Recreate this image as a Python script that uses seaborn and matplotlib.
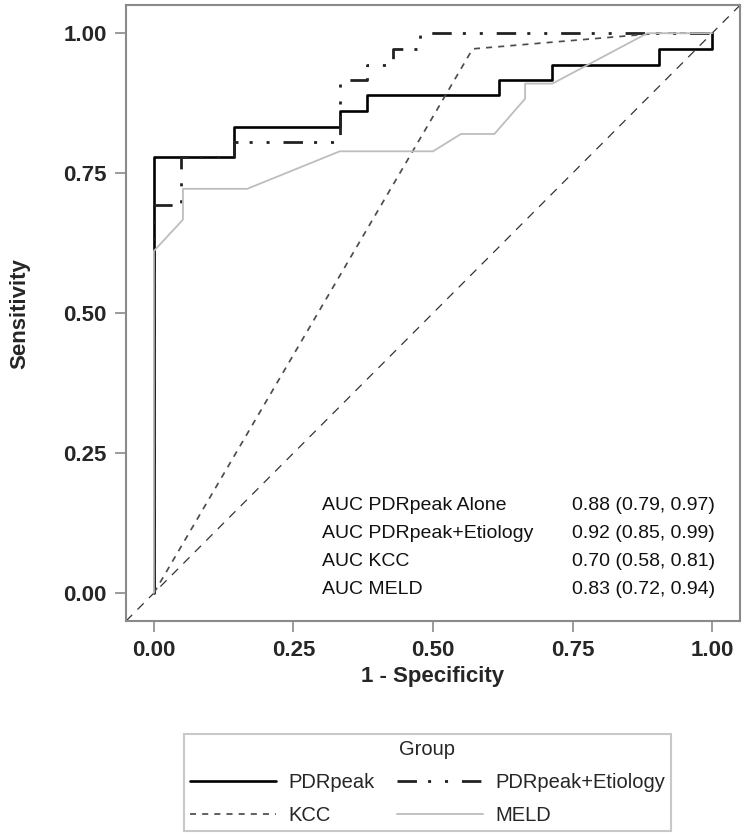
import numpy as np
import pandas as pd
import matplotlib
matplotlib.use("Agg")
import matplotlib.pyplot as plt
import seaborn as sns

# ROC points (x = 1 - specificity, y = sensitivity)
pdr_fpr = [0, 0, 0.143, 0.143, 0.333, 0.333, 0.381, 0.381, 0.619, 0.619, 0.714, 0.714, 0.905, 0.905, 1.0, 1.0]
pdr_tpr = [0, 0.778, 0.778, 0.833, 0.833, 0.861, 0.861, 0.889, 0.889, 0.917, 0.917, 0.944, 0.944, 0.972, 0.972, 1.0]

etio_fpr = [0, 0, 0.048, 0.048, 0.143, 0.143, 0.333, 0.333, 0.381, 0.381, 0.429, 0.429, 0.476, 0.476, 1.0]
etio_tpr = [0, 0.694, 0.694, 0.778, 0.778, 0.806, 0.806, 0.917, 0.917, 0.944, 0.944, 0.972, 0.972, 1.0, 1.0]

kcc_fpr = [0, 0.571, 0.905, 1.0]
kcc_tpr = [0, 0.972, 1.0, 1.0]

meld_fpr = [0, 0, 0.052, 0.052, 0.167, 0.333, 0.5, 0.55, 0.61, 0.665, 0.665, 0.714, 0.884, 1.0]
meld_tpr = [0, 0.611, 0.667, 0.722, 0.722, 0.789, 0.789, 0.82, 0.82, 0.883, 0.91, 0.91, 1.0, 1.0]

auc_labels = ["AUC PDRpeak Alone", "AUC PDRpeak+Etiology", "AUC KCC", "AUC MELD"]
auc_values = ["0.88 (0.79, 0.97)", "0.92 (0.85, 0.99)", "0.70 (0.58, 0.81)", "0.83 (0.72, 0.94)"]
auc_rows_y = [0.157, 0.107, 0.057, 0.007]

ticks = [0.0, 0.25, 0.5, 0.75, 1.0]
tick_labels = ["0.00", "0.25", "0.50", "0.75", "1.00"]

sns.set_theme(style="white")
plt.rcParams["font.family"] = ["Liberation Sans", "DejaVu Sans"]

frame_gray = "#8a8a8a"

fig = plt.figure(figsize=(7.5, 8.39), dpi=100)
ax = fig.add_axes([0.168, 0.2598, 0.8187, 0.734])

# chance line first, underneath the curves
ax.axline((0, 0), (1, 1), color="#333333", lw=0.9, linestyle=(0, (7, 6)))

sns.lineplot(x=pdr_fpr, y=pdr_tpr, sort=False, estimator=None, ax=ax,
             color="black", lw=1.9, label="PDRpeak")
sns.lineplot(x=etio_fpr, y=etio_tpr, sort=False, estimator=None, ax=ax,
             color="#222222", lw=2.0, linestyle=(0, (7, 4, 1.1, 5, 1.1, 5)),
             label="PDRpeak+Etiology")
sns.lineplot(x=kcc_fpr, y=kcc_tpr, sort=False, estimator=None, ax=ax,
             color="#4d4d4d", lw=1.25, linestyle=(0, (3.5, 3.5)), label="KCC")
sns.lineplot(x=meld_fpr, y=meld_tpr, sort=False, estimator=None, ax=ax,
             color="#bdbdbd", lw=1.3, label="MELD")

ax.set_xlim(-0.05, 1.05)
ax.set_ylim(-0.05, 1.05)
ax.set_xticks(ticks)
ax.set_yticks(ticks)
ax.set_xticklabels(tick_labels, fontsize=16, fontweight="bold")
ax.set_yticklabels(tick_labels, fontsize=16, fontweight="bold")
ax.tick_params(axis="both", direction="out", length=8, width=1.2,
               color=frame_gray, pad=6, bottom=True, left=True)
for sp in ax.spines.values():
    sp.set_color(frame_gray)
    sp.set_linewidth(1.5)

ax.set_xlabel("1 - Specificity", fontsize=16, fontweight="bold")
ax.set_ylabel("Sensitivity", fontsize=16, fontweight="bold")
ax.xaxis.set_label_coords(0.5, -0.09)
ax.xaxis.label.set_va("center")
ax.yaxis.set_label_coords(-0.173, 0.5)
ax.yaxis.label.set_va("center")

for lab, val, yy in zip(auc_labels, auc_values, auc_rows_y):
    ax.text(0.301, yy, lab, fontsize=14, va="center", ha="left", color="#111111")
    ax.text(0.749, yy, val, fontsize=14, va="center", ha="left", color="#111111")

# legend filled row by row: PDRpeak, PDRpeak+Etiology / KCC, MELD
handles, labels = ax.get_legend_handles_labels()
ax.get_legend().remove()
order = [0, 2, 1, 3]
leg = fig.legend([handles[i] for i in order], [labels[i] for i in order],
                 title="Group", ncol=2, loc="lower center",
                 bbox_to_anchor=(0.57, 0.0095), borderaxespad=0,
                 fontsize=14.5, title_fontsize=14.5,
                 frameon=True, fancybox=False, edgecolor="#bbbbbb",
                 handlelength=4.3, handletextpad=0.6, columnspacing=1.1,
                 labelspacing=0.7, borderpad=0.3)
leg.get_frame().set_linewidth(1.5)

fig.savefig("out.png", dpi=100)
